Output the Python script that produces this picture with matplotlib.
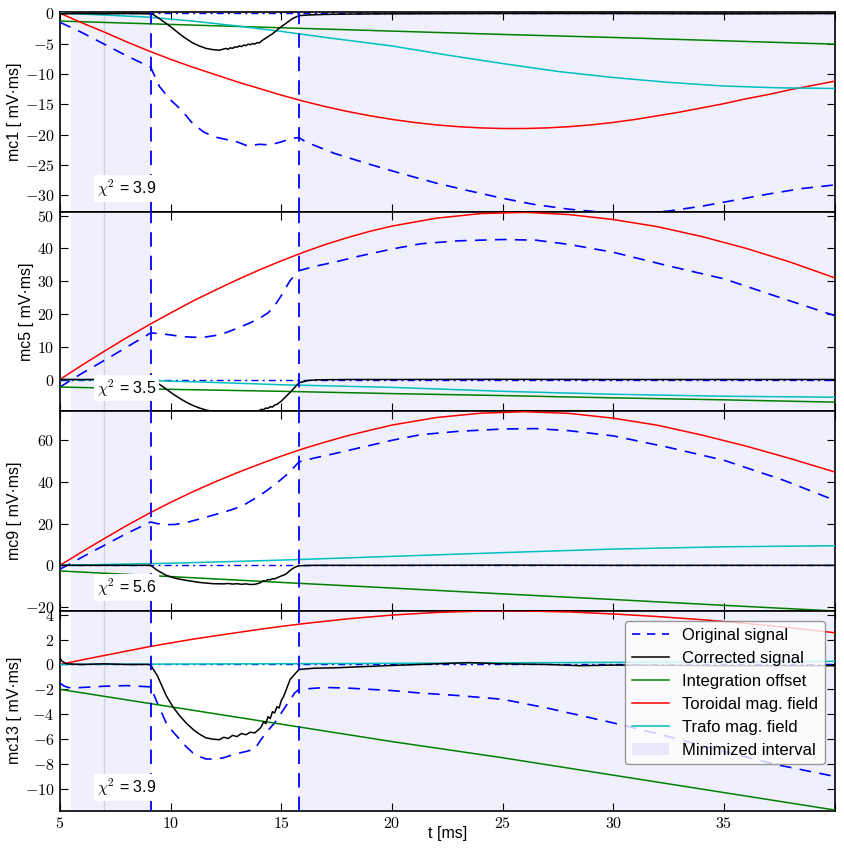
import matplotlib
matplotlib.use('Agg')
import matplotlib.pyplot as plt
from matplotlib.ticker import FuncFormatter, MultipleLocator
from matplotlib.patches import Patch
from matplotlib.lines import Line2D

plt.rcParams['font.family'] = ['Liberation Sans', 'DejaVu Sans']
plt.rcParams['mathtext.fontset'] = 'cm'
plt.rcParams['axes.linewidth'] = 1.2

# ---- data ----
t_min, t_max = 5.5, 9.1      # first minimized interval
t_plasma = 15.8              # second interval starts here
t_mark = 7.0

names = ['mc1', 'mc5', 'mc9', 'mc13']
chi2 = [3.9, 3.5, 5.6, 3.9]
ylims = [(-32.7, 0.2), (-9.7, 51.2), (-21.9, 73.9), (-11.75, 4.3)]
ysteps = [5, 10, 20, 2]

t_grid = [5, 10, 15, 20, 25, 30, 35, 40]

# mc1
t_orig1 = [5, 5.3, 6, 7, 8, 9.1, 9.5, 10, 10.5, 11, 11.5, 12, 12.5, 13, 13.5, 14, 14.5, 15, 15.5,
           15.8, 16.1, 17.4, 18.9, 20.4, 22, 23.4, 25, 26.4, 28, 29.5, 31, 32.5, 34, 35.5, 37, 38.5, 40]
orig1 = [-1.5, -2.0, -3.2, -5.1, -7.0, -8.9, -12.1, -14.3, -16.0, -18.2, -19.6, -20.4, -20.8, -21.2,
         -21.9, -21.6, -21.7, -21.2, -20.6, -20.5, -21.2, -23.1, -24.8, -26.4, -28.0, -29.2, -30.5,
         -31.5, -32.3, -32.8, -33.0, -32.6, -31.8, -30.8, -29.8, -28.9, -28.3]
t_corr1 = [5, 6, 7, 8, 9, 9.2, 9.5, 9.8, 10.1, 10.4, 10.7, 11.0, 11.3, 11.6, 11.9, 12.2, 12.5, 12.6,
           12.7, 12.8, 12.9, 13.0, 13.1, 13.2, 13.3, 13.4, 13.5, 13.6, 13.7, 13.8, 13.9, 14.0, 14.1,
           14.3, 14.6, 14.9, 15.2, 15.5, 15.8, 16.2, 17, 18, 20, 25, 30, 35, 40]
corr1 = [-0.1, -0.05, -0.1, -0.05, -0.1, -0.2, -0.9, -1.7, -2.5, -3.4, -4.2, -4.9, -5.4, -5.8, -6.0,
         -6.1, -5.8, -5.95, -5.7, -5.8, -5.55, -5.6, -5.4, -5.5, -5.25, -5.35, -5.1, -5.2, -5.0,
         -5.1, -4.85, -4.9, -4.6, -4.1, -3.4, -2.5, -1.7, -0.9, -0.4, -0.3, -0.2, -0.15, -0.1,
         -0.05, -0.05, -0.1, -0.05]
offs1 = [-1.3, -1.85, -2.4, -2.95, -3.5, -4.0, -4.55, -5.1]
t_tor1 = [5, 6, 7, 8, 9, 10, 11, 12, 13, 14, 15, 16, 17, 18, 19, 20, 21, 22, 23, 24, 25, 26, 27, 28,
          29, 30, 31, 32, 33, 34, 35, 36, 37, 38, 39, 40]
tor1 = [0, -1.6, -3.1, -4.7, -6.2, -7.6, -8.9, -10.1, -11.3, -12.4, -13.5, -14.5, -15.4, -16.2,
        -16.9, -17.5, -18.0, -18.4, -18.7, -18.9, -19.0, -19.0, -18.9, -18.7, -18.4, -18.0, -17.5,
        -16.9, -16.3, -15.6, -14.9, -14.1, -13.4, -12.6, -11.9, -11.2]
t_tra1 = [5, 7, 9, 11, 13, 15, 17, 20, 22.5, 25, 27.5, 30, 32.5, 35, 37.5, 40]
tra1 = [0, -0.3, -0.65, -1.3, -2.1, -3.0, -4.0, -5.4, -6.9, -8.3, -9.6, -10.6, -11.4, -12.0,
        -12.3, -12.4]

# mc5
t_orig5 = [5, 6, 7, 8, 9.1, 9.5, 10, 10.5, 11, 11.5, 12, 12.5, 13, 13.5, 14, 14.4, 14.7, 15, 15.4,
           15.8, 16.5, 17.4, 18.5, 20, 21.3, 23, 25, 26.5, 28, 30, 32.4, 35, 37.7, 40]
orig5 = [-2.3, 1.9, 5.8, 9.8, 14.2, 14.0, 13.6, 13.1, 12.9, 12.9, 13.4, 14.3, 15.6, 17.0, 18.6, 20.3,
         22.5, 25.6, 30.2, 33.2, 34.5, 35.8, 37.6, 39.8, 41.4, 42.3, 42.7, 42.5, 41.2, 38.8, 34.8,
         30.7, 24.6, 19.5]
t_corr5 = [5, 7, 9, 9.1, 9.5, 9.8, 10.1, 10.4, 10.7, 11.0, 11.3, 11.6, 11.9, 12.5, 13.0, 13.5, 13.8,
           14.0, 14.1, 14.2, 14.3, 14.4, 14.5, 14.6, 14.7, 14.8, 14.9, 15.0, 15.1, 15.3, 15.5, 15.8,
           16.2, 16.6, 18, 20, 25, 30, 35, 40]
corr5 = [0, 0, 0, 0, -1.5, -2.9, -4.4, -5.7, -6.9, -7.9, -8.7, -9.3, -9.7, -10.2, -10.3, -10.1,
         -9.8, -9.5, -9.1, -9.2, -8.7, -8.8, -8.3, -8.4, -7.8, -7.6, -7.1, -6.6, -5.9, -4.6, -3.2,
         -1.0, -0.3, -0.1, 0, 0, 0.05, 0, 0, 0]
offs5 = [-2.3, -3.0, -3.6, -4.3, -4.9, -5.6, -6.2, -6.9]
t_tor5 = [5, 6, 7, 8, 9, 10, 11, 12, 13, 14, 15, 16, 17, 18, 19, 20, 22, 24, 26, 28, 30, 32, 34, 36,
          38, 40]
tor5 = [0, 4.4, 8.6, 12.7, 16.6, 20.3, 23.9, 27.2, 30.4, 33.4, 36.2, 38.8, 41.2, 43.3, 45.2, 46.8,
        49.2, 50.6, 51.0, 50.3, 48.8, 46.6, 43.6, 40.0, 35.8, 31.0]
t_tra5 = [5, 9, 12, 15, 20, 25, 30, 35, 40]
tra5 = [0, -0.3, -0.9, -1.6, -2.4, -3.6, -4.5, -5.1, -5.4]

# mc9
t_orig9 = [5, 6, 7, 8, 9.1, 9.4, 9.8, 10.2, 10.7, 11.3, 11.9, 12.4, 12.9, 13.4, 13.8, 14.3, 14.8,
           15.3, 15.8, 16.5, 17.4, 18.5, 20, 21.3, 23, 25, 26.5, 28, 30, 32.4, 35, 37.7, 40]
orig9 = [-1.9, 3.9, 9.6, 15.2, 20.8, 20.0, 19.5, 19.6, 20.5, 22.2, 24.0, 25.5, 27.2, 29.5, 32.0,
         35.5, 39.5, 44.0, 49.6, 51.5, 53.6, 56.3, 60.0, 62.7, 64.3, 65.4, 65.6, 64.6, 62.1, 56.8,
         50.4, 40.8, 31.2]
t_corr9 = [5, 7, 9, 9.1, 9.4, 9.8, 10.2, 10.7, 11.3, 11.9, 12.4, 12.6, 12.8, 13.0, 13.2, 13.4,
           13.6, 13.8, 14.0, 14.1, 14.2, 14.3, 14.4, 14.5, 14.6, 14.7, 14.8, 15.0, 15.2, 15.4, 15.6,
           15.8, 16.5, 18, 20, 25, 30, 35, 40]
corr9 = [0, 0, 0, 0, -2.4, -4.8, -6.2, -7.2, -8.2, -8.8, -8.9, -8.7, -9.0, -8.8, -9.1, -8.9, -9.2,
         -9.1, -8.6, -8.0, -7.4, -7.6, -6.8, -7.0, -6.4, -6.5, -6.0, -5.1, -4.3, -2.4, -1.0, -0.2, 0,
         0, 0, 0.1, 0, 0, 0]
offs9 = [-2.7, -5.4, -8.2, -10.9, -13.7, -16.4, -19.2, -21.9]
t_tor9 = [5, 6, 7, 8, 9, 10, 11, 12, 13, 14, 15, 16, 17, 18, 19, 20, 22, 24, 26, 28, 30, 32, 34, 36,
          38, 40]
tor9 = [0, 6.5, 12.8, 19.0, 24.8, 30.2, 35.3, 40.0, 44.4, 48.5, 52.4, 56.0, 59.2, 62.2, 64.8, 67.3,
        70.9, 73.0, 73.7, 72.9, 70.6, 67.2, 62.5, 57.2, 51.2, 44.8]
tra9 = [0, 1.0, 2.5, 4.3, 6.1, 7.8, 8.9, 9.4]

# mc13
t_orig13 = [5, 5.2, 5.5, 6, 7, 8, 9.1, 9.4, 9.8, 10.1, 10.4, 10.7, 11.0, 11.3, 11.6, 12.0, 12.4,
            12.9, 13.4, 13.8, 14.1, 14.4, 14.7, 15.0, 15.3, 15.6, 15.8, 16.2, 17, 18, 20, 21.3, 23,
            25, 27, 30, 32.5, 35, 37.5, 40]
orig13 = [-1.5, -1.75, -1.9, -1.85, -1.75, -1.7, -1.8, -3.1, -4.7, -5.4, -6.0, -6.6, -7.1, -7.4,
          -7.6, -7.6, -7.5, -7.2, -7.0, -6.8, -6.0, -5.3, -4.7, -3.9, -3.1, -2.3, -2.0, -1.95, -1.85,
          -1.9, -2.1, -2.3, -2.5, -2.8, -3.5, -4.7, -5.8, -7.0, -8.1, -9.0]
t_corr13 = [5, 5.1, 5.3, 6, 7, 8, 9, 9.1, 9.4, 9.8, 10.1, 10.4, 10.7, 11.0, 11.3, 11.6, 11.9, 12.2,
            12.4, 12.6, 12.8, 13.0, 13.2, 13.4, 13.6, 13.8, 14.0, 14.1, 14.2, 14.3, 14.4, 14.5,
            14.6, 14.7, 14.8, 14.9, 15.0, 15.1, 15.4, 15.8, 16.5, 17.4, 20, 22, 23.5, 25, 27, 28.5,
            30, 35, 40]
corr13 = [0.5, 0.25, 0.05, 0.0, 0.05, 0.0, 0.0, -0.05, -0.9, -2.5, -3.4, -4.1, -4.7, -5.2, -5.6,
          -5.9, -6.0, -6.05, -5.85, -5.95, -5.7, -5.8, -5.55, -5.65, -5.45, -5.5, -5.2, -5.0, -4.6,
          -4.75, -4.2, -4.35, -3.8, -3.9, -3.4, -3.5, -2.9, -2.6, -1.2, -0.4, -0.3, -0.27, -0.08,
          0.05, 0.15, 0.05, 0.0, -0.1, -0.05, -0.1, -0.1]
offs13 = [-2.0, -3.4, -4.8, -6.2, -7.5, -8.9, -10.3, -11.7]
t_tor13 = [5, 6, 7, 8, 9, 10, 11, 12, 13, 14, 15, 16, 18, 20, 22, 24, 26, 28, 30, 32, 34, 36, 38, 40]
tor13 = [0, 0.37, 0.72, 1.07, 1.42, 1.73, 2.03, 2.3, 2.56, 2.82, 3.06, 3.28, 3.67, 3.97, 4.18, 4.29,
         4.3, 4.22, 4.06, 3.85, 3.6, 3.3, 2.95, 2.55]
tra13 = [0, 0.03, 0.06, 0.09, 0.13, 0.17, 0.21, 0.25]

orig = [(t_orig1, orig1), (t_orig5, orig5), (t_orig9, orig9), (t_orig13, orig13)]
corr = [(t_corr1, corr1), (t_corr5, corr5), (t_corr9, corr9), (t_corr13, corr13)]
offs = [(t_grid, offs1), (t_grid, offs5), (t_grid, offs9), (t_grid, offs13)]
tor = [(t_tor1, tor1), (t_tor5, tor5), (t_tor9, tor9), (t_tor13, tor13)]
tra = [(t_tra1, tra1), (t_tra5, tra5), (t_grid, tra9), (t_grid, tra13)]

span_col = (0.94, 0.94, 0.99)

fig, axes = plt.subplots(4, 1, sharex=True, figsize=(8.44, 8.56), dpi=100)
fig.subplots_adjust(left=0.071, right=0.989, top=0.986, bottom=0.053, hspace=0)

for i, ax in enumerate(axes):
    ax.axvspan(t_min, t_max, color=span_col, lw=0, zorder=0)
    ax.axvspan(t_plasma, 40, color=span_col, lw=0, zorder=0)
    ax.axvline(t_mark, color='#d4d4e0', lw=1, zorder=1)
    ax.axhline(0, color='b', ls='-.', lw=1, dashes=(5, 3, 1.5, 3), zorder=2)
    ax.plot(*orig[i], 'b--', lw=1.2, dashes=(7, 5), zorder=3)
    ax.plot(*corr[i], 'k-', lw=1.1, zorder=4)
    ax.plot(*offs[i], 'g-', lw=1.1, zorder=3)
    ax.plot(*tor[i], 'r-', lw=1.1, zorder=3)
    ax.plot(*tra[i], 'c-', lw=1.1, zorder=3)
    ax.axvline(t_max, color='b', ls='--', dashes=(8, 5), lw=1.3, zorder=5)
    ax.axvline(t_plasma, color='b', ls='--', dashes=(8, 5), lw=1.3, zorder=5)

    ax.set_xlim(5, 40)
    ax.set_ylim(*ylims[i])
    ax.yaxis.set_major_locator(MultipleLocator(ysteps[i]))
    ax.xaxis.set_major_locator(MultipleLocator(5))
    ax.yaxis.set_major_formatter(FuncFormatter(lambda v, p: '$%g$' % v))
    ax.xaxis.set_major_formatter(FuncFormatter(lambda v, p: '$%g$' % v if v < 40 else ''))
    ax.tick_params(direction='in', top=True, right=True, length=6, labelsize=11.5, pad=4)
    ax.set_ylabel(names[i] + ' [ mV\u00b7ms]', fontsize=11.5, labelpad=2)

    ax.text(0.048, 0.09, r'$\chi^2$ = %.1f' % chi2[i], transform=ax.transAxes,
            fontsize=11.5, zorder=6,
            bbox=dict(facecolor='white', edgecolor='none', pad=2))

axes[-1].set_xlabel('t [ms]', fontsize=11.5, labelpad=-4)

handles = [Line2D([], [], color='b', ls='--', dashes=(5, 4), lw=1.2),
           Line2D([], [], color='k', lw=1.1),
           Line2D([], [], color='g', lw=1.1),
           Line2D([], [], color='r', lw=1.1),
           Line2D([], [], color='c', lw=1.1),
           Patch(facecolor=(0.91, 0.91, 0.98), edgecolor='none')]
labels = ['Original signal', 'Corrected signal', 'Integration offset',
          'Toroidal mag. field', 'Trafo mag. field', 'Minimized interval']
leg = axes[-1].legend(handles, labels, loc='upper right', fontsize=12, fancybox=True,
                      framealpha=0.8, edgecolor='gray', handlelength=2.2,
                      labelspacing=0.48, borderaxespad=0.6, borderpad=0.4)
leg.set_zorder(10)

fig.savefig('out.png')
